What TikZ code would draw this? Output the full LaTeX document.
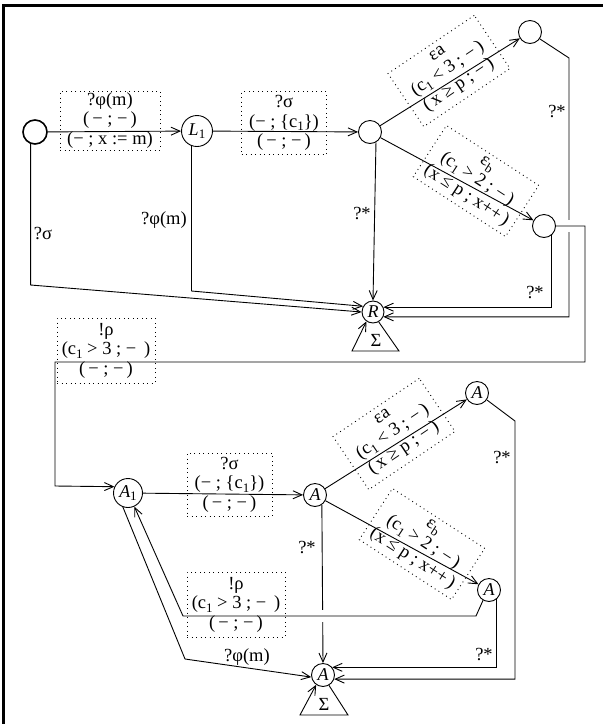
\documentclass[tikz,border=0pt]{standalone}
\usepackage{fontspec}
\setmainfont{Liberation Serif}
\usetikzlibrary{arrows.meta}
\newcommand\lo[1]{\raisebox{-0.45ex}{\upshape\fontsize{13}{13}\selectfont #1}}
\begin{document}
\begin{tikzpicture}[x=1pt,y=-1pt,line width=0.9pt,
  every node/.style={font=\fontsize{18.5}{19.5}\selectfont},
  st/.style={circle,draw,minimum size=23pt,inner sep=0pt,font=\fontsize{18}{18}\selectfont\itshape},
  arr/.style={-{Straight Barb[length=9pt,width=8pt]}},
  lbox/.style={draw,dash pattern=on 0.9pt off 3.6pt,align=center,inner sep=0pt},
  txt/.style={inner sep=1pt}]
\useasboundingbox (0,0) rectangle (603,724);
% frame
\draw[line width=3.5pt] (3.5,724) -- (3.5,5.3) -- (603,5.3);
% states (top)
\node[st,line width=1.6pt,minimum size=24pt] (I) at (35,132) {};
\node[st,minimum size=31pt] (L1) at (197,131) {L\lo{1}};
\node[st] (N) at (370,132) {};
\node[st] (T) at (530,32) {};
\node[st] (B) at (544,226) {};
\node[st,minimum size=22pt] (R) at (373,312) {R};
% states (bottom)
\node[st,minimum size=29pt] (A1) at (128,493) {A\lo{1}};
\node[st] (A) at (315,495) {A};
\node[st] (AT) at (477,393) {A};
\node[st] (AB) at (489,590) {A};
\node[st] (Z) at (323,675) {A};
% top edges
\draw[arr] (I) -- (L1);
\draw[arr] (L1) -- (N);
\draw[arr] (N) -- (T);
\draw[arr] (N) -- (B);
\draw[arr] (N.-60) -- (R.north);
\draw[arr] (I.-110) -- (I.-110 |- 0,285) -- (R.west);
\draw[arr] (L1.-110) -- (L1.-110 |- 0,291) -- (R.150);
\draw[arr] (B.-50) |- (R.25);
\draw[arr] (T.-35) -- (569,58) |- (R.-25);
\fill[white] (565,220) rectangle (573,232);
\draw[arr] (B.east) -- (585,226) -- (585,362) -- (55,362) -- (55,486) -- (A1.155);
\draw[arr] (R.-60) -- (399,351) -- (352,351) -- (R.-125);
\node[txt] (S1) at (376,340) {Σ};
% bottom edges
\draw[arr] (A1) -- (A);
\draw[arr] (A) -- (AT);
\draw[arr] (A) -- (AB);
\draw[arr] (A.-55) -- (Z.north);
\fill[white] (318,610) rectangle (326,622);
\draw[arr] (AB.240) -- (476,616) -- (183,616) -- (A1.-65);
\draw[arr] (A1.-110) -- (185,659) -- (Z.190);
\draw[arr] (AB.-50) |- (Z.40);
\draw[arr] (AT.-35) -- (515,421) |- (Z.-20);
\draw[arr] (Z.-60) -- (348,715) -- (300,715) -- (Z.-125);
\node[txt] (S2) at (324,704) {Σ};
% edge label boxes
\node[lbox,minimum width=100pt,minimum height=59pt] (b1) at (110,120.5) {?φ(m)\\(\,− ; −\,)\\(− ; x := m)};
\node[lbox,minimum width=85pt,minimum height=63pt] (b2) at (284,123) {?σ\\(− ; \{c\lo{1}\})\\(\,− ; −\,)};
\node[lbox,rotate=34,minimum width=104pt,minimum height=64pt] (b3) at (449,71) {εa\\(c\lo{1} < 3 ; −\,)\\(\,x ≥ p ; −\,)};
\node[lbox,rotate=-33,minimum width=110pt,minimum height=61pt] (b4) at (476,181) {ε\lo{b}\\(c\lo{1} > 2 ; −\,)\\(x ≤ p ; x++\,)};
\node[lbox,minimum width=98pt,minimum height=65pt] (b5) at (106,350.5) {!ρ\\(c\lo{1} > 3 ; − \,)\\(\,− ; −\,)};
\node[lbox,minimum width=85pt,minimum height=63pt] (b6) at (229.5,484.5) {?σ\\(− ; \{c\lo{1}\})\\(\,− ; −\,)};
\node[lbox,rotate=34,minimum width=104pt,minimum height=64pt] (b7) at (394,434) {εa\\(c\lo{1} < 3 ; −\,)\\(\,x ≥ p ; −\,)};
\node[lbox,rotate=-33,minimum width=110pt,minimum height=61pt] (b8) at (422,544) {ε\lo{b}\\(c\lo{1} > 2 ; −\,)\\(x ≤ p ; x++\,)};
\node[lbox,minimum width=98pt,minimum height=65pt] (b9) at (236,604.5) {!ρ\\(c\lo{1} > 3 ; − \,)\\(\,− ; −\,)};
% free labels
\node[txt] (t1) at (43,233) {?σ};
\node[txt] (t2) at (164,220) {?φ(m)};
\node[txt] (t3) at (362,214) {?*};
\node[txt] (t4) at (557,112) {?*};
\node[txt] (t5) at (535,292) {?*};
\node[txt] (t6) at (307,547) {?*};
\node[txt] (t7) at (502,457) {?*};
\node[txt] (t8) at (484,654) {?*};
\node[txt] (t9) at (247,657) {?φ(m)};
\end{tikzpicture}
\end{document}
